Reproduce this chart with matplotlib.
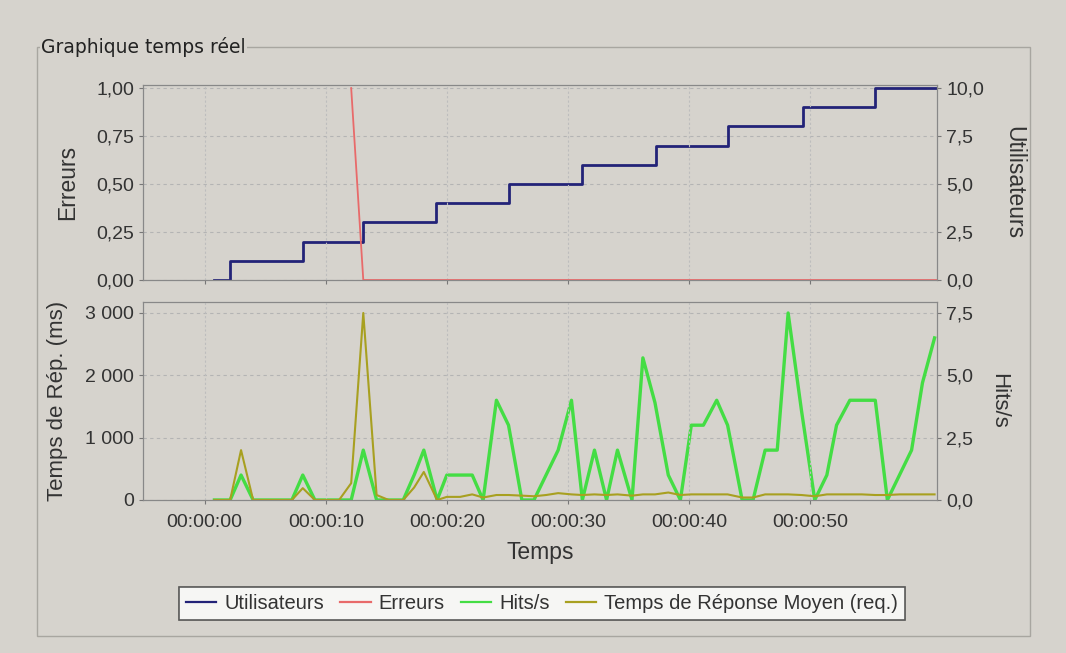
import matplotlib
matplotlib.use("Agg")
import matplotlib.pyplot as plt
from matplotlib.patches import Rectangle
from matplotlib.ticker import FuncFormatter, FixedLocator

# data (time in seconds)
users_t = [0.8, 2.1, 8.1, 13.1, 19.1, 25.1, 31.2, 37.3, 43.2, 49.4, 55.4, 60.5]
users = [0, 1, 2, 3, 4, 5, 6, 7, 8, 9, 10, 10]

err_t = [12.1, 13.1, 60.5]
errors = [1.0, 0.0, 0.0]

t = [0.8, 2.1, 3.0, 4.0, 5.0, 6.0, 7.2, 8.1, 9.1, 10.1, 11.1, 12.1, 13.1, 14.2,
     15.2, 16.4, 17.3, 18.1, 19.2, 20.0, 21.1, 22.1, 23.0, 24.1, 25.1, 26.2,
     27.2, 28.2, 29.2, 30.3, 31.2, 32.2, 33.2, 34.1, 35.3, 36.2, 37.2, 38.3,
     39.3, 40.2, 41.2, 42.3, 43.2, 44.4, 45.3, 46.3, 47.3, 48.2, 49.3, 50.4,
     51.4, 52.2, 53.3, 54.3, 55.4, 56.4, 57.4, 58.4, 59.3, 60.3]
hits = [0, 0, 1, 0, 0, 0, 0, 1, 0, 0, 0, 0, 2, 0,
        0, 0, 1, 2, 0, 1, 1, 1, 0, 4, 3, 0,
        0, 1, 2, 4, 0, 2, 0, 2, 0, 5.7, 3.9, 1,
        0, 3, 3, 4, 3, 0, 0, 2, 2, 7.5, 3.6, 0,
        1, 3, 4, 4, 4, 0, 1, 2, 4.7, 6.5]
resp = [0, 0, 800, 0, 0, 0, 0, 190, 0, 0, 0, 270, 3000, 80,
        0, 0, 200, 450, 0, 50, 50, 90, 40, 80, 80, 70,
        60, 80, 110, 90, 80, 90, 80, 90, 70, 90, 90, 120,
        80, 90, 90, 90, 90, 40, 40, 90, 90, 90, 80, 60,
        90, 90, 90, 90, 80, 80, 90, 90, 90, 90]

tick_secs = [0, 10, 20, 30, 40, 50]

BG = "#d6d3cd"
TXT = "#333333"

plt.rcParams["font.family"] = ["Liberation Sans", "DejaVu Sans"]
plt.rcParams["text.color"] = TXT
plt.rcParams["axes.labelcolor"] = TXT
plt.rcParams["xtick.color"] = "#777777"
plt.rcParams["ytick.color"] = "#777777"
plt.rcParams["xtick.labelcolor"] = TXT
plt.rcParams["ytick.labelcolor"] = TXT


def fr(v, dec):
    s = f"{v:,.{dec}f}"
    return s.replace(",", " ").replace(".", ",")


def hms(x, pos):
    s = int(round(x))
    return f"{s // 3600:02d}:{(s // 60) % 60:02d}:{s % 60:02d}"


fig = plt.figure(figsize=(10.66, 6.53), dpi=100)
fig.patch.set_facecolor(BG)

# group box "Graphique temps réel"
W, H = 1066, 653
fig.add_artist(Rectangle((37 / W, 1 - 636 / H), (1030 - 37) / W, (636 - 47) / H,
                         transform=fig.transFigure, fill=False,
                         edgecolor="#a8a6a0", lw=1.0))
fig.text(41 / W, 1 - 47 / H, "Graphique temps réel", fontsize=13.5,
         family=["DejaVu Sans"], va="center", ha="left", color="#222222",
         bbox=dict(facecolor=BG, edgecolor="none", pad=1))

x0, x1 = -5.1, 60.5
ax1 = fig.add_axes([143 / W, 1 - 280 / H, (937 - 143) / W, (280 - 85) / H])
ax2 = fig.add_axes([143 / W, 1 - 500 / H, (937 - 143) / W, (500 - 302) / H])
ax1r = ax1.twinx()
ax2r = ax2.twinx()

for a in (ax1, ax2):
    a.set_xlim(x0, x1)
    a.xaxis.set_major_locator(FixedLocator(tick_secs))
    a.set_zorder(3)
    a.patch.set_visible(False)
    a.set_axisbelow(True)
    a.grid(True, axis="x", color="#bdbdbd", ls=(0, (2, 2)), lw=0.8)

for a in (ax1r, ax2r):
    a.set_zorder(1)
    a.set_facecolor("white")
    a.set_axisbelow(True)
    a.grid(True, axis="y", color="#b4b4b4", ls=(0, (3, 3)), lw=0.8)

for a in (ax1, ax1r, ax2, ax2r):
    for sp in a.spines.values():
        sp.set_color("#888888")

# top panel
l_users, = ax1r.plot(users_t, users, drawstyle="steps-post", color="#232378",
                     lw=2.0, label="Utilisateurs")
l_err, = ax1.plot(err_t, errors, color="#e86a6a", lw=1.3, label="Erreurs",
                  clip_on=False)
ax1.set_ylim(0, 1.016)
ax1r.set_ylim(0, 10.16)
ax1.set_yticks([0, 0.25, 0.5, 0.75, 1.0])
ax1r.set_yticks([0, 2.5, 5, 7.5, 10])
ax1.yaxis.set_major_formatter(FuncFormatter(lambda v, p: fr(v, 2)))
ax1r.yaxis.set_major_formatter(FuncFormatter(lambda v, p: fr(v, 1)))
ax1.tick_params(axis="x", labelbottom=False)
ax1.set_ylabel("Erreurs", fontsize=16.5, labelpad=12)
ax1r.set_ylabel("Utilisateurs", fontsize=16.5, rotation=-90, labelpad=30)

# bottom panel
l_hits, = ax2r.plot(t, hits, color="#44dd44", lw=2.4, label="Hits/s")
l_resp, = ax2.plot(t, resp, color="#a8a020", lw=1.5,
                   label="Temps de Réponse Moyen (req.)")
ax2.set_ylim(0, 3176)
ax2r.set_ylim(0, 7.94)
ax2.set_yticks([0, 1000, 2000, 3000])
ax2r.set_yticks([0, 2.5, 5, 7.5])
ax2.yaxis.set_major_formatter(FuncFormatter(lambda v, p: fr(v, 0)))
ax2r.yaxis.set_major_formatter(FuncFormatter(lambda v, p: fr(v, 1)))
ax2.xaxis.set_major_formatter(FuncFormatter(hms))
ax2.set_ylabel("Temps de Rép. (ms)", fontsize=16, labelpad=12)
ax2r.set_ylabel("Hits/s", fontsize=16, rotation=-90, labelpad=26)
ax2.set_xlabel("Temps", fontsize=16.5, labelpad=7)

for a in (ax1, ax1r, ax2, ax2r):
    a.tick_params(labelsize=14, length=3)
ax2.tick_params(axis="x", pad=7)

leg = fig.legend([l_users, l_err, l_hits, l_resp],
                 [h.get_label() for h in (l_users, l_err, l_hits, l_resp)],
                 loc="center", bbox_to_anchor=(542 / W, 1 - 603.5 / H), ncol=4,
                 fontsize=14.5, frameon=True, fancybox=False, handlelength=1.5,
                 handletextpad=0.4, columnspacing=0.8, borderpad=0.35)
leg.get_frame().set_edgecolor("#333333")
leg.get_frame().set_linewidth(1.2)
for ln in leg.get_lines():
    ln.set_linewidth(1.6)

fig.savefig("out.png", dpi=100, facecolor=BG)
